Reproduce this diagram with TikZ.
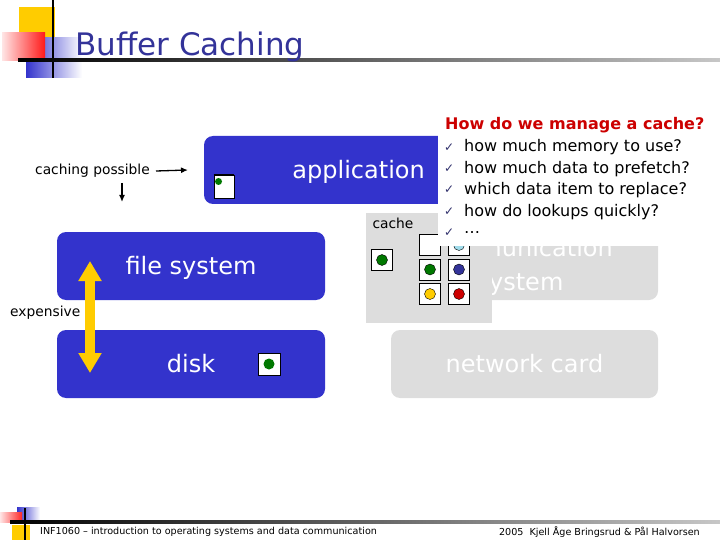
\documentclass[tikz,border=0pt]{standalone}
\usepackage{fontspec}
\setmainfont{DejaVu Sans}
\usetikzlibrary{arrows.meta,positioning}
\definecolor{boxblue}{RGB}{51,51,204}
\definecolor{titleblue}{RGB}{51,51,153}
\definecolor{boxgray}{RGB}{221,221,221}
\definecolor{costyellow}{RGB}{255,204,0}
\definecolor{dotgreen}{RGB}{0,120,0}
\definecolor{dotblue}{RGB}{51,51,153}
\definecolor{dotred}{RGB}{204,0,0}
\definecolor{dotcyan}{RGB}{160,220,235}
\definecolor{dotyellow}{RGB}{255,204,0}
\definecolor{headred}{RGB}{204,0,0}
\definecolor{tickblue}{RGB}{51,51,110}

\begin{document}
\begin{tikzpicture}[x=1pt,y=-1pt,
  layer/.style={rounded corners=9pt,minimum height=68pt,inner sep=0pt,text=white,font=\fontsize{24}{34}\selectfont},
  bluelayer/.style={layer,fill=boxblue},
  graylayer/.style={layer,fill=boxgray},
  slot/.style={draw=black,fill=white,minimum size=21pt,inner sep=0pt,line width=0.8pt},
  dot/.style={circle,draw=black,line width=0.4pt,fill=#1,minimum size=11pt,inner sep=0pt},
  note/.style={font=\fontsize{13.8}{16}\selectfont,inner sep=0pt},
  qline/.style={font=\fontsize{16}{19}\selectfont,inner sep=0pt,anchor=west},
  foot/.style={font=\fontsize{9.6}{11}\selectfont,inner sep=0pt}]
\useasboundingbox (0,0) rectangle (720,540);
% title decoration
\fill[costyellow] (19,7) rectangle (55,38);
\shade[left color=boxblue,right color=white] (26,38) rectangle (82,78);
\shade[left color=red!10,right color=red!90] (2,33) rectangle (45,61);
\draw[line width=2pt] (53,0) -- (53,78);
\shade[left color=black,right color=black!22] (18,58.5) rectangle (720,61.5);
\node[anchor=base west,inner sep=0pt,text=titleblue,font=\fontsize{31}{36}\selectfont] (title) at (75,56) {Buf{}fer Caching};
% footer decoration
\fill[costyellow] (12,525) rectangle (30,540);
\shade[left color=boxblue,right color=white] (17,507) rectangle (40,521);
\shade[left color=red!10,right color=red!85] (0,512) rectangle (22,522);
\shade[left color=black,right color=black!22] (10,520.5) rectangle (720,523.5);
\draw[line width=1.6pt] (25,508) -- (25,540);
\node[foot,anchor=west] (footl) at (40,532) {INF1060 – introduction to operating systems and data communication};
\node[foot,anchor=east] (footr) at (700,532) {2005\ \ Kjell Åge Bringsrud \& Pål Halvorsen};
% layers
\node[bluelayer,minimum width=250pt] (app) at (329,170) {};
\node[anchor=east,inner sep=0pt,text=white,font=\fontsize{24}{34}\selectfont] (applbl) at (425,172) {application};
\node[bluelayer,minimum width=268pt,text depth=2pt] (fs) at (191,266) {file system};
\node[bluelayer,minimum width=268pt,text depth=2pt] (disk) at (191,364) {disk};
\node[graylayer,minimum width=268pt] (comm) at (524,266) {};
\node[inner sep=0pt,text=white,align=center,font=\fontsize{24}{34}\selectfont] (commlbl) at (520,267) {communication\\system};
\node[graylayer,minimum width=267pt,text depth=2pt] (net) at (524.5,364) {network card};
% cache
\node[fill=boxgray,minimum width=126pt,minimum height=110pt,inner sep=0pt] (cache) at (429,268) {};
\node[note] (cachelbl) at (393,223) {cache};
\node[slot] (cslot) at (382,260) {};
\node[dot=dotgreen] at (cslot) {};
\node[slot] (g11) at (430,245) {};
\foreach \c/\r/\col in {2/1/dotcyan,1/2/dotgreen,2/2/dotblue,1/3/dotyellow,2/3/dotred} {
  \node[slot] (g\c\r) at ({401+29*\c},{220.5+24.5*\r}) {};
  \node[dot=\col] at (g\c\r) {};
}
% icons
\node[slot,minimum width=20pt,minimum height=23pt] (appicon) at (224,186.5) {};
\draw[line width=2pt] (appicon.north west) -- (appicon.north east);
\fill[dotgreen] (218.5,181.5) circle (3.5pt);
\node[slot,minimum size=22pt] (diskicon) at (269,364) {};
\fill[dotgreen] (diskicon) circle (5.5pt);
% questions
\node[fill=white,minimum width=275pt,minimum height=134pt,anchor=north west,inner sep=0pt] (qbox) at (438,112) {};
\node[qline,text=headred,font=\bfseries\fontsize{16}{19}\selectfont] (qhead) at (445,125) {How do we manage a cache?};
\foreach \t [count=\i] in {how much memory to use?,how much data to prefetch?,which data item to replace?,how do lookups quickly?,\dots} {
  \node[qline,text=tickblue,font=\fontsize{12}{13}\selectfont] (tick\i) at (444,{126+21.4*\i}) {✓};
  \node[qline] (q\i) at (464,{126+21.4*\i}) {\t};
}
% labels and arrows
\node[note,anchor=west] (caching) at (35,171) {caching possible};
\coordinate (capend) at (188,170);
\coordinate (downtop) at (122,183);
\coordinate (downend) at (122,202);
\draw[line width=1.3pt,-{Latex[length=7pt,width=6pt]}] ([xshift=6pt]caching.east) -- (capend);
\draw[line width=1.3pt,-{Latex[length=7pt,width=6pt]}] (downtop) -- (downend);
\node[note,anchor=west] (costlbl) at (10,313) {expensive};
\coordinate (costtop) at (90,261);
\coordinate (costbot) at (90,373);
\draw[costyellow,line width=10pt,{Triangle[width=22pt,length=20pt]}-{Triangle[width=22pt,length=20pt]}] (costtop) -- (costbot);
\end{tikzpicture}
\end{document}
